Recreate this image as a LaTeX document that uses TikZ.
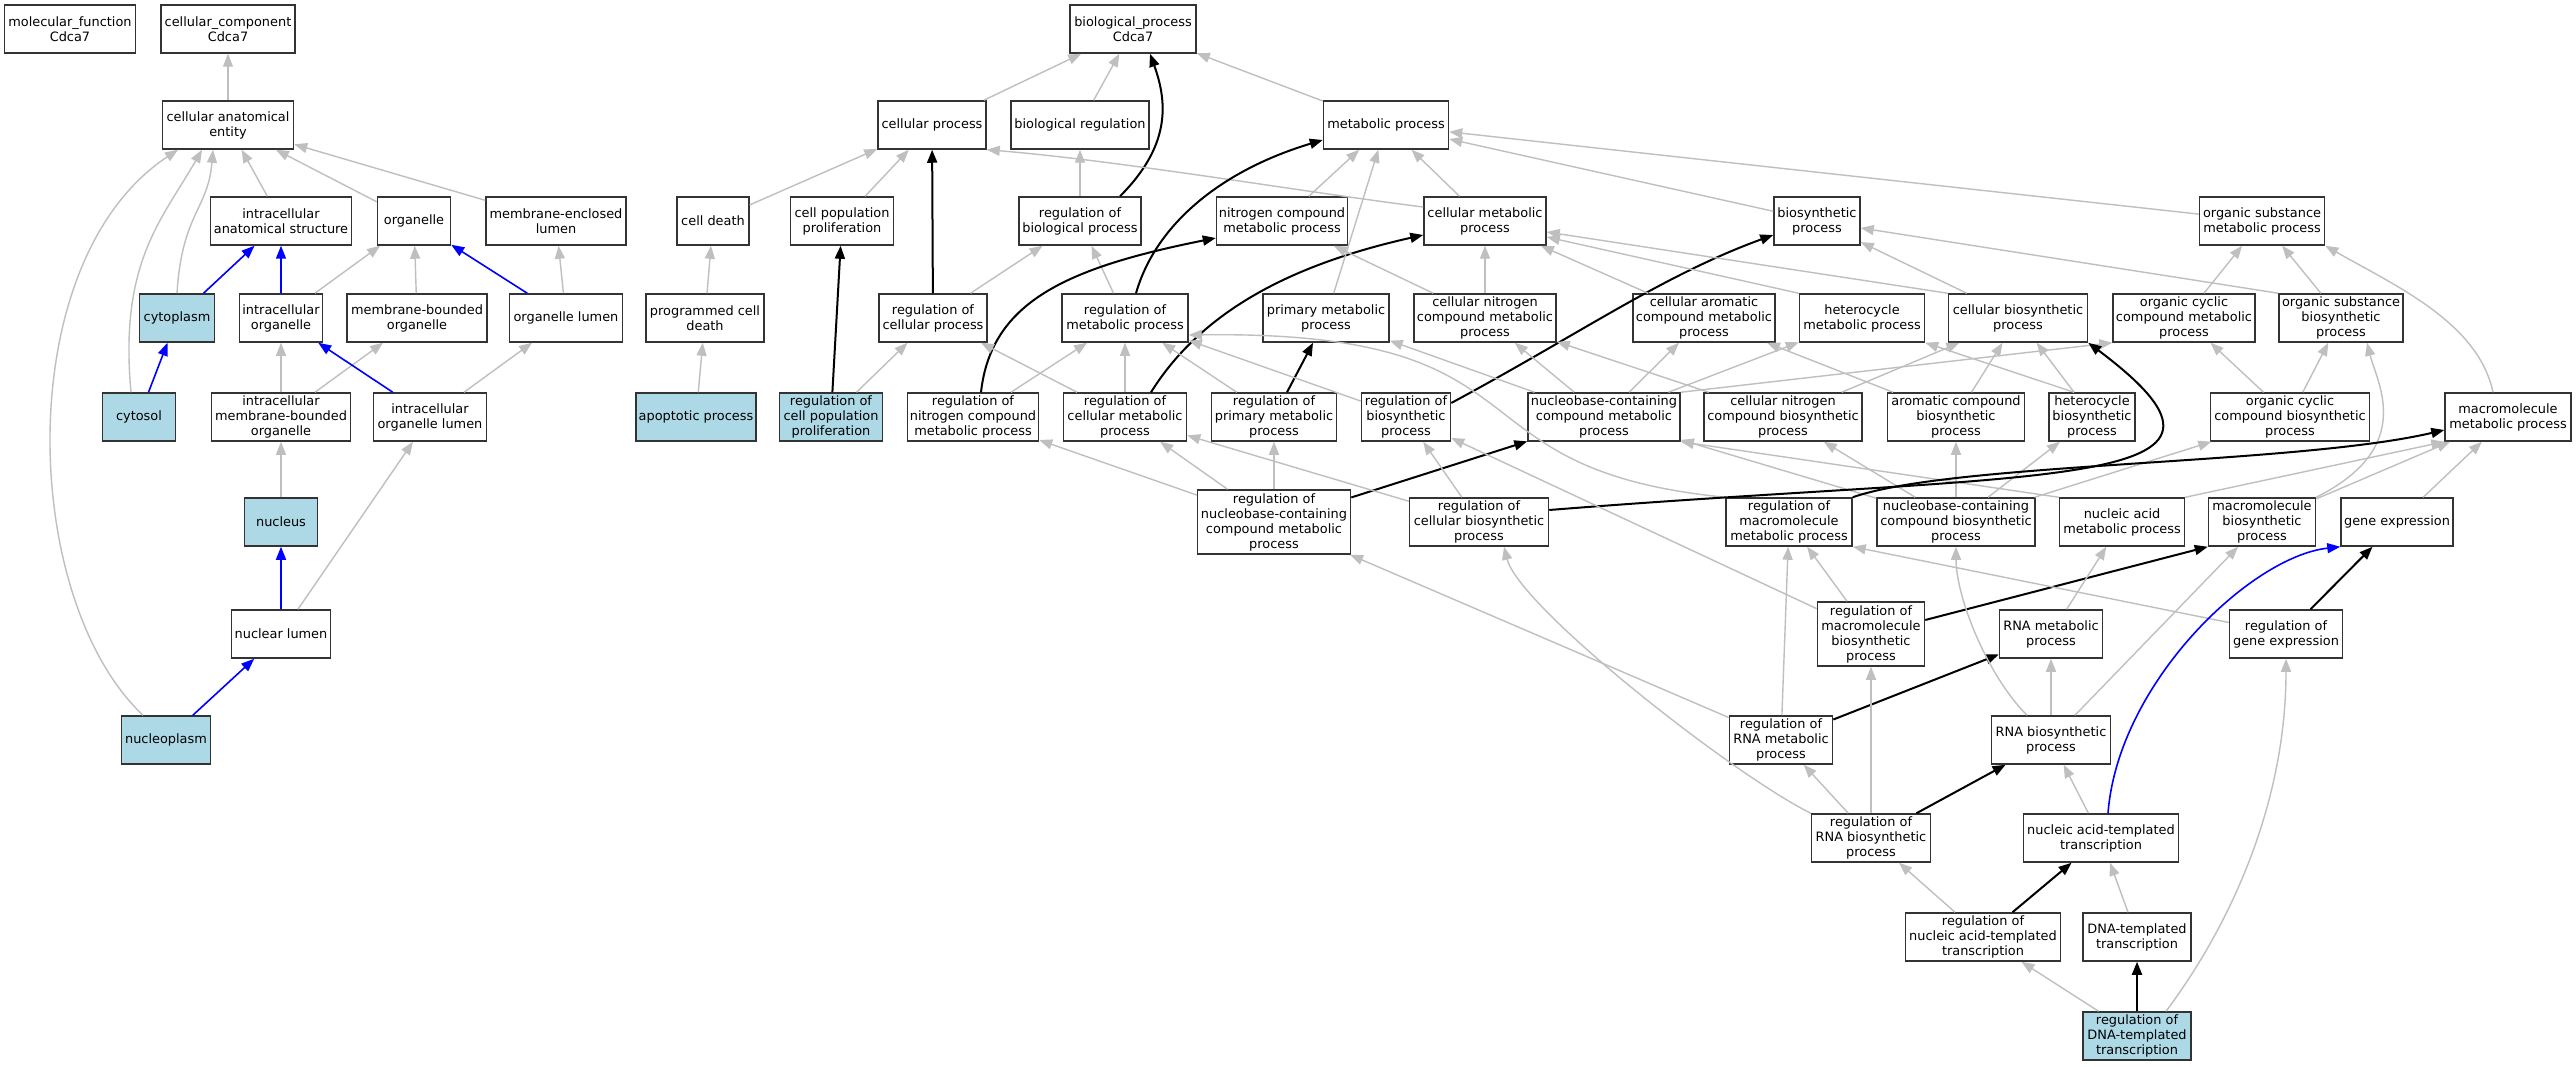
\documentclass[tikz,border=0pt]{standalone}
\usepackage{fontspec}
\setmainfont{DejaVu Sans}
\usetikzlibrary{arrows.meta}
\definecolor{hitblue}{HTML}{ADD8E6}
\begin{document}
\begin{tikzpicture}[x=1pt,y=1pt,
	term/.style={draw=black!80, line width=1.5pt, fill=white, align=center, minimum height=48pt, inner sep=1pt, font=\fontsize{12.9}{15}\selectfont},
	hit/.style={term, fill=hitblue},
	tall/.style={minimum height=64pt},
	isa/.style={draw=black!25, line width=1.4pt, -{Triangle[length=13pt,width=10pt]}},
	reg/.style={draw=black, line width=2pt, -{Triangle[length=13pt,width=10pt]}},
	partof/.style={draw=blue, line width=1.6pt, -{Triangle[length=13pt,width=10pt]}}]

	\useasboundingbox[fill=white] (0,0) rectangle (2576,-1067);

	\node[term, minimum width=131pt] (mf) at (70,-29) {molecular\_function\\Cdca7};
	\node[term, minimum width=134pt] (cc) at (228,-29) {cellular\_component\\Cdca7};
	\node[term, minimum width=131pt] (cae) at (228,-125) {cellular anatomical\\entity};
	\node[term, minimum width=141pt] (ias) at (281,-221) {intracellular\\anatomical structure};
	\node[term, minimum width=73pt] (org) at (414,-221) {organelle};
	\node[term, minimum width=140pt] (mel) at (556,-221) {membrane-enclosed\\lumen};
	\node[hit, minimum width=75pt] (cyt) at (177,-318) {cytoplasm};
	\node[term, minimum width=83pt] (io) at (281,-318) {intracellular\\organelle};
	\node[term, minimum width=140pt] (mbo) at (417,-318) {membrane-bounded\\organelle};
	\node[term, minimum width=113pt] (ol) at (566,-318) {organelle lumen};
	\node[hit, minimum width=73pt] (cytosol) at (139,-417) {cytosol};
	\node[term, minimum width=139pt] (imbo) at (281,-417) {intracellular\\membrane-bounded\\organelle};
	\node[term, minimum width=113pt] (iol) at (430,-417) {intracellular\\organelle lumen};
	\node[hit, minimum width=73pt] (nuc) at (281,-522) {nucleus};
	\node[term, minimum width=99pt] (nl) at (281,-634) {nuclear lumen};
	\node[hit, minimum width=89pt] (np) at (166,-740) {nucleoplasm};

	\node[term, minimum width=126pt] (bp) at (1133,-29) {biological\_process\\Cdca7};
	\node[term, minimum width=108pt] (cp) at (932,-125) {cellular process};
	\node[term, minimum width=138pt] (br) at (1080,-125) {biological regulation};
	\node[term, minimum width=125pt] (mp) at (1386,-125) {metabolic process};
	\node[term, minimum width=72pt] (cd) at (713,-221) {cell death};
	\node[term, minimum width=103pt] (cpp) at (842,-221) {cell population\\proliferation};
	\node[term, minimum width=122pt] (rbp) at (1080,-221) {regulation of\\biological process};
	\node[term, minimum width=131pt] (ncmp) at (1282,-221) {nitrogen compound\\metabolic process};
	\node[term, minimum width=122pt] (cmp) at (1485,-221) {cellular metabolic\\process};
	\node[term, minimum width=86pt] (bsp) at (1817,-221) {biosynthetic\\process};
	\node[term, minimum width=125pt] (osmp) at (2262,-221) {organic substance\\metabolic process};
	\node[term, minimum width=118pt] (pcd) at (705,-318) {programmed cell\\death};
	\node[term, minimum width=108pt] (rcp) at (933,-318) {regulation of\\cellular process};
	\node[term, minimum width=126pt] (rmp) at (1125,-318) {regulation of\\metabolic process};
	\node[term, minimum width=126pt] (pmp) at (1326,-318) {primary metabolic\\process};
	\node[term, minimum width=142pt] (cncmp) at (1485,-318) {cellular nitrogen\\compound metabolic\\process};
	\node[term, minimum width=142pt] (cacmp) at (1704,-318) {cellular aromatic\\compound metabolic\\process};
	\node[term, minimum width=125pt] (hmp) at (1862,-318) {heterocycle\\metabolic process};
	\node[term, minimum width=139pt] (cbsp) at (2018,-318) {cellular biosynthetic\\process};
	\node[term, minimum width=142pt] (occmp) at (2184,-318) {organic cyclic\\compound metabolic\\process};
	\node[term, minimum width=124pt] (osbp) at (2341,-318) {organic substance\\biosynthetic\\process};
	\node[hit, minimum width=120pt] (ap) at (696,-417) {apoptotic process};
	\node[hit, minimum width=103pt] (rcpp) at (831,-417) {regulation of\\cell population\\proliferation};
	\node[term, minimum width=131pt] (rncmp) at (973,-417) {regulation of\\nitrogen compound\\metabolic process};
	\node[term, minimum width=123pt] (rcmp) at (1125,-417) {regulation of\\cellular metabolic\\process};
	\node[term, minimum width=125pt] (rpmp) at (1274,-417) {regulation of\\primary metabolic\\process};
	\node[term, minimum width=89pt] (rbsp) at (1406,-417) {regulation of\\biosynthetic\\process};
	\node[term, minimum width=152pt] (nbcmp) at (1604,-417) {nucleobase-containing\\compound metabolic\\process};
	\node[term, minimum width=158pt] (cncbp) at (1783,-417) {cellular nitrogen\\compound biosynthetic\\process};
	\node[term, minimum width=137pt] (acbp) at (1956,-417) {aromatic compound\\biosynthetic\\process};
	\node[term, minimum width=86pt] (hbp) at (2092,-417) {heterocycle\\biosynthetic\\process};
	\node[term, minimum width=159pt] (occbp) at (2290,-417) {organic cyclic\\compound biosynthetic\\process};
	\node[term, minimum width=126pt] (mmp) at (2508,-417) {macromolecule\\metabolic process};
	\node[term, tall, minimum width=153pt] (rnbcmp) at (1274,-522) {regulation of\\nucleobase-containing\\compound metabolic\\process};
	\node[term, minimum width=139pt] (rcbsp) at (1479,-522) {regulation of\\cellular biosynthetic\\process};
	\node[term, minimum width=126pt] (rmmp) at (1789,-522) {regulation of\\macromolecule\\metabolic process};
	\node[term, minimum width=158pt] (nbcbp) at (1956,-522) {nucleobase-containing\\compound biosynthetic\\process};
	\node[term, minimum width=125pt] (namp) at (2122,-522) {nucleic acid\\metabolic process};
	\node[term, minimum width=107pt] (mbp) at (2262,-522) {macromolecule\\biosynthetic\\process};
	\node[term, minimum width=112pt] (ge) at (2397,-522) {gene expression};
	\node[term, tall, minimum width=107pt] (rmbp) at (1871,-634) {regulation of\\macromolecule\\biosynthetic\\process};
	\node[term, minimum width=103pt] (rnamp) at (2051,-634) {RNA metabolic\\process};
	\node[term, minimum width=113pt] (rge) at (2286,-634) {regulation of\\gene expression};
	\node[term, minimum width=103pt] (rrnamp) at (1781,-740) {regulation of\\RNA metabolic\\process};
	\node[term, minimum width=119pt] (rnabp) at (2051,-740) {RNA biosynthetic\\process};
	\node[term, minimum width=119pt] (rrnabp) at (1871,-838) {regulation of\\RNA biosynthetic\\process};
	\node[term, minimum width=155pt] (natt) at (2101,-838) {nucleic acid-templated\\transcription};
	\node[term, minimum width=155pt] (rnatt) at (1983,-937) {regulation of\\nucleic acid-templated\\transcription};
	\node[term, minimum width=108pt] (dtt) at (2137,-937) {DNA-templated\\transcription};
	\node[hit, minimum width=108pt] (rdtt) at (2137,-1036) {regulation of\\DNA-templated\\transcription};

	\draw[isa] (cae) -- (cc);
	\draw[isa] (ias) -- (cae);
	\draw[isa] (org) -- (cae);
	\draw[isa] (mel) -- (cae);
	\draw[isa] (cyt.north) .. controls +(5,80) and +(-5,-60) .. ([xshift=-15pt]cae.south);
	\draw[isa] ([xshift=-8pt]cytosol.north) .. controls +(-12,130) and +(-40,-70) .. ([xshift=-26pt]cae.south);
	\draw[isa] ([xshift=-23pt]np.north) .. controls +(-123,116) and +(-168,-111) .. ([xshift=-50pt]cae.south);
	\draw[partof] (cyt) -- (ias);
	\draw[partof] (io) -- (ias);
	\draw[isa] (io) -- (org);
	\draw[isa] (mbo) -- (org);
	\draw[partof] (ol) -- (org);
	\draw[isa] (ol) -- (mel);
	\draw[partof] (cytosol) -- (cyt);
	\draw[isa] (imbo) -- (io);
	\draw[isa] (imbo) -- (mbo);
	\draw[partof] (iol) -- (io);
	\draw[isa] (iol) -- (ol);
	\draw[isa] (nuc) -- (imbo);
	\draw[partof] (nl) -- (nuc);
	\draw[isa] (nl) -- (iol);
	\draw[partof] (np) -- (nl);

	\draw[isa] (cp) -- (bp);
	\draw[isa] (br) -- (bp);
	\draw[reg] ([xshift=40pt]rbp.north) .. controls +(50,50) and +(18,-50) .. ([xshift=17pt]bp.south);
	\draw[isa] (mp) -- (bp);
	\draw[isa] (cd) -- (cp);
	\draw[isa] (cpp) -- (cp);
	\draw[reg] (rcp) -- (cp);
	\draw[isa] ([yshift=14pt]cmp.west) .. controls +(-120,15) and +(134,-11) .. (cp.south east);
	\draw[isa] (rbp) -- (br);
	\draw[isa] (pcd) -- (cd);
	\draw[reg] (rcpp) -- (cpp);
	\draw[isa] (rcp) -- (rbp);
	\draw[isa] (rmp) -- (rbp);
	\draw[reg] ([xshift=11pt]rmp.north) .. controls +(20,70) and +(-100,-30) .. ([yshift=-15pt]mp.west);
	\draw[reg] ([xshift=8pt]rncmp.north) .. controls +(10,90) and +(-150,-30) .. ([yshift=-17pt]ncmp.west);
	\draw[reg] ([xshift=26pt]rcmp.north) .. controls +(50,80) and +(-134,-30) .. ([yshift=-14pt]cmp.west);
	\draw[isa] (ap) -- (pcd);
	\draw[reg] (rpmp) -- (pmp);
	\draw[reg] ([yshift=14pt]rbsp.east) .. controls +(130,70) and +(-110,-40) .. ([yshift=-14pt]bsp.west);
	\draw[isa] (rcpp) -- (rcp);
	\draw[isa] (rcmp) -- (rcp);
	\draw[isa] (rncmp) -- (rmp);
	\draw[isa] (rcmp) -- (rmp);
	\draw[isa] (rpmp) -- (rmp);
	\draw[isa] (rbsp) -- (rmp);
	\draw[isa] (rmmp.north west) .. controls +(-286,28) and +(372,5) .. ([yshift=-17pt]rmp.east);
	\draw[isa] (nbcmp) -- (pmp);
	\draw[isa] (cncmp) -- (cmp);
	\draw[isa] (cncmp) -- (ncmp);
	\draw[isa] (cacmp) -- (cmp);
	\draw[isa] (hmp.north west) -- ([yshift=-16pt]cmp.east);
	\draw[isa] (cbsp.north west) -- ([yshift=-11pt]cmp.east);
	\draw[isa] (cbsp) -- (bsp);
	\draw[isa] (osbp.north west) -- ([yshift=-7pt]bsp.east);
	\draw[isa] (osmp) -- (mp);
	\draw[isa] (bsp) -- (mp);
	\draw[isa] (ncmp) -- (mp);
	\draw[isa] (pmp) -- (mp);
	\draw[isa] (cmp) -- (mp);
	\draw[isa] (occmp) -- (osmp);
	\draw[isa] (osbp) -- (osmp);
	\draw[isa] ([xshift=-15pt]mmp.north) .. controls +(-15,70) and +(70,-40) .. (osmp.south east);
	\draw[isa] (cncbp) -- (cncmp);
	\draw[isa] (cncbp) -- (cbsp);
	\draw[isa] (acbp) -- (cacmp);
	\draw[isa] (acbp) -- (cbsp);
	\draw[isa] ([xshift=-18pt]hbp.north) -- (hmp.south east);
	\draw[isa] ([xshift=-18pt]hbp.north) -- (cbsp);
	\draw[isa] (nbcmp) -- (cncmp);
	\draw[isa] (nbcmp) -- (cacmp);
	\draw[isa] (nbcmp) -- (hmp);
	\draw[isa] (nbcmp.north east) -- (occmp.south west);
	\draw[isa] (nbcbp) -- (nbcmp);
	\draw[isa] (namp.north west) -- (nbcmp.south east);
	\draw[isa] (nbcbp) -- (cncbp);
	\draw[isa] (nbcbp) -- (acbp);
	\draw[isa] (nbcbp) -- (hbp);
	\draw[isa] (nbcbp) -- (occbp);
	\draw[isa] (namp.north east) -- (mmp.south west);
	\draw[isa] (mbp) -- (mmp);
	\draw[isa] (mbp.north east) .. controls +(100,50) and +(10,-40) .. ([xshift=26pt]osbp.south);
	\draw[isa] (ge) -- (mmp);
	\draw[isa] (occbp) -- (occmp);
	\draw[isa] (occbp) -- (osbp);

	\draw[reg] (rnbcmp) -- (nbcmp);
	\draw[isa] (rnbcmp) -- (rncmp);
	\draw[isa] (rnbcmp) -- (rcmp);
	\draw[isa] (rnbcmp) -- (rpmp);
	\draw[isa] (rcbsp) -- (rcmp);
	\draw[isa] (rcbsp) -- (rbsp);
	\draw[reg] ([yshift=12pt]rcbsp.east) .. controls +(500,40) and +(200,-150) .. (cbsp.south east);
	\draw[reg] (rmmp.north east) .. controls +(100,35) and +(-150,-35) .. ([yshift=-13pt]mmp.west);
	\draw[reg] (rmbp) -- (mbp.south west);
	\draw[isa] (rmbp) -- (rmmp);
	\draw[isa] (rmbp) -- (rbsp);
	\draw[isa] (rge) -- (rmmp.south east);
	\draw[reg] (rge) -- (ge);
	\draw[isa] (rnamp) -- (namp);
	\draw[reg] (rrnamp) -- (rnamp);
	\draw[isa] (rrnamp) -- (rmmp);
	\draw[isa] (rrnamp) -- (rnbcmp);
	\draw[reg] (rrnabp) -- (rnabp);
	\draw[isa] (rrnabp) -- (rrnamp);
	\draw[isa] (rrnabp) -- (rmbp);
	\draw[isa] (rrnabp.north west) .. controls +(-80,40) and +(15,-60) .. ([xshift=25pt]rcbsp.south);
	\draw[isa] (rnabp) -- (rnamp);
	\draw[isa] ([xshift=-24pt]rnabp.north) .. controls +(-40,40) and +(0,-50) .. (nbcbp.south);
	\draw[isa] (rnabp) -- (mbp);
	\draw[isa] (natt) -- (rnabp);
	\draw[partof] ([xshift=7pt]natt.north) .. controls +(10,130) and +(-90,-10) .. (ge.south west);
	\draw[reg] (rnatt) -- (natt);
	\draw[isa] (rnatt) -- (rrnabp);
	\draw[isa] (dtt) -- (natt);
	\draw[reg] (rdtt) -- (dtt);
	\draw[isa] (rdtt) -- (rnatt);
	\draw[isa] ([xshift=29pt]rdtt.north) .. controls +(60,80) and +(0,-150) .. (rge.south);
\end{tikzpicture}
\end{document}
